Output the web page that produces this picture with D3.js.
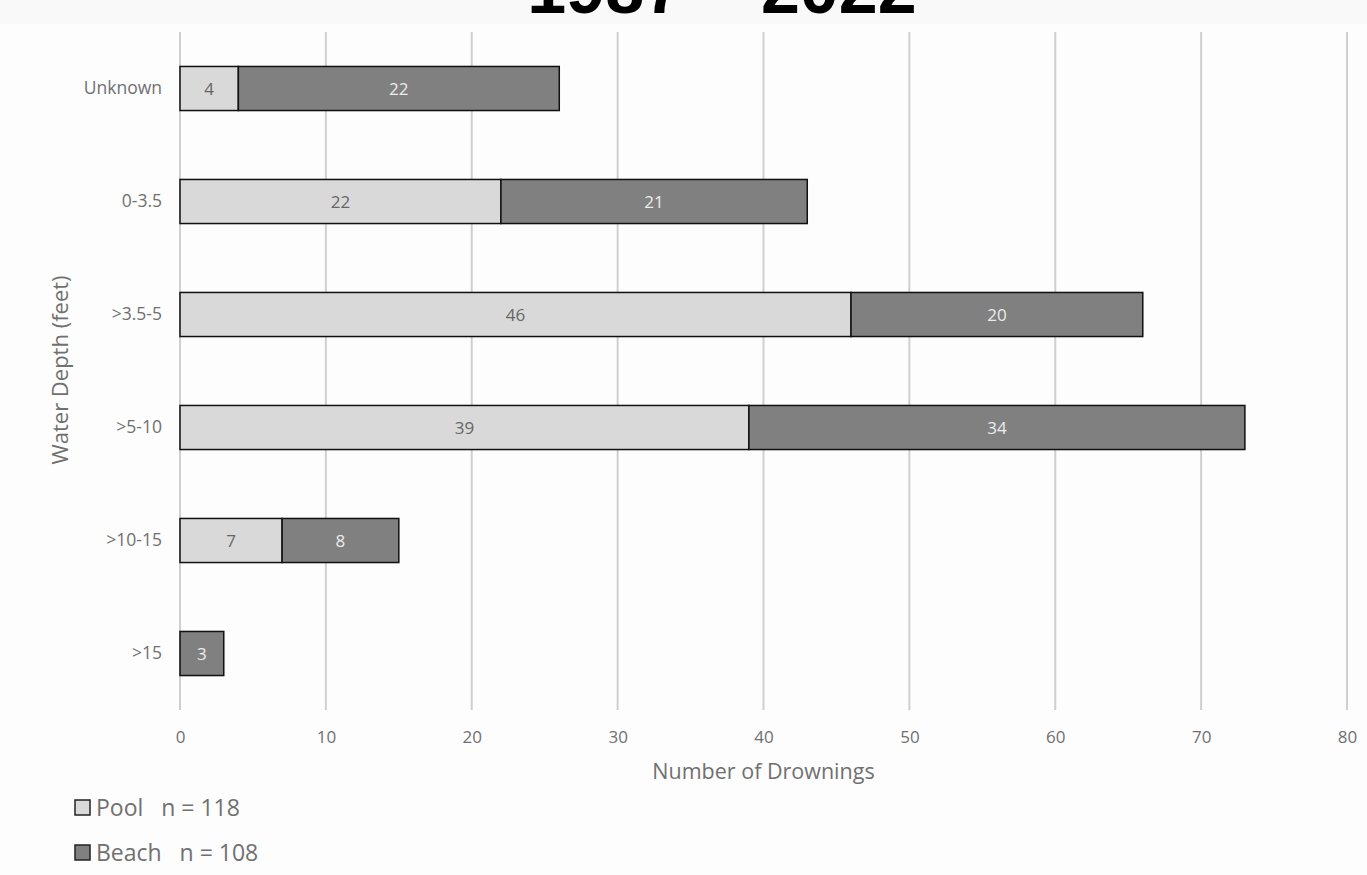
<!DOCTYPE html>
<html><head><meta charset="utf-8">
<script src="https://cdn.jsdelivr.net/npm/d3@7"></script>
<style>
html,body{margin:0;padding:0;background:#fdfdfd;}
svg{display:block;}
</style></head>
<body>
<svg id="chart" width="1367" height="875"></svg>
<script>
const categories = ["Unknown", "0-3.5", ">3.5-5", ">5-10", ">10-15", ">15"];
const poolValues = [4, 22, 46, 39, 7, 0];
const beachValues = [22, 21, 20, 34, 8, 3];
const xTicks = [0, 10, 20, 30, 40, 50, 60, 70, 80];
const seriesNames = ["Pool", "Beach"];
const seriesTotals = ["n = 118", "n = 108"];
const titleText = "1987 \u2013 2022";

const font = "'Open Sans', 'Noto Sans', sans-serif";
const svg = d3.select("#chart");
const W = 1367, H = 875;
const m = {left: 180, right: 20, top: 32, bottom: 165};

svg.append("rect").attr("width", W).attr("height", H).attr("fill", "#fdfdfd");
svg.append("rect").attr("x", 0).attr("y", 0).attr("width", W).attr("height", 24).attr("fill", "#f9f9f9");

const x = d3.scaleLinear().domain([0, 80]).range([m.left, W - m.right]);
const y = d3.scaleBand().domain(categories).range([m.top, H - m.bottom]).paddingInner(0.61).paddingOuter(0.305);

// title (cropped at top, as in the reference)
svg.append("text").attr("x", 722).attr("y", 13).attr("text-anchor", "middle")
  .attr("font-family", "'Liberation Sans', Arial, sans-serif").attr("font-weight", "bold")
  .attr("font-size", 70).attr("fill", "#000").text(titleText);

// gridlines
svg.append("g").selectAll("line").data(xTicks).join("line")
  .attr("x1", d => x(d)).attr("x2", d => x(d))
  .attr("y1", m.top).attr("y2", H - m.bottom)
  .attr("stroke", "#cfcfcf").attr("stroke-width", 2);

// x axis labels
const xAxis = d3.axisBottom(x).tickValues(xTicks).tickSize(0).tickPadding(21);
const gx = svg.append("g").attr("transform", `translate(0,${H - m.bottom})`).call(xAxis);
gx.select(".domain").remove();
gx.selectAll("text").attr("font-family", font).attr("font-size", 17).attr("fill", "#707070");

// y axis labels
const yAxis = d3.axisLeft(y).tickSize(0).tickPadding(18);
const gy = svg.append("g").attr("transform", `translate(${m.left},0)`).call(yAxis);
gy.select(".domain").remove();
gy.selectAll("text").attr("font-family", font).attr("font-size", 17.5).attr("fill", "#707070");

// bars
const rows = categories.map((c, i) => ({cat: c, pool: poolValues[i], beach: beachValues[i]}));
const bars = svg.append("g");
rows.forEach(r => {
  if (r.pool > 0) {
    bars.append("rect").attr("x", x(0)).attr("y", y(r.cat))
      .attr("width", x(r.pool) - x(0)).attr("height", y.bandwidth())
      .attr("fill", "#d9d9d9").attr("stroke", "#111").attr("stroke-width", 1.5);
    bars.append("text").attr("x", (x(0) + x(r.pool)) / 2).attr("y", y(r.cat) + y.bandwidth() / 2)
      .attr("dy", "0.36em").attr("text-anchor", "middle").attr("font-family", font)
      .attr("font-size", 17).attr("fill", "#666").text(r.pool);
  }
  if (r.beach > 0) {
    bars.append("rect").attr("x", x(r.pool)).attr("y", y(r.cat))
      .attr("width", x(r.pool + r.beach) - x(r.pool)).attr("height", y.bandwidth())
      .attr("fill", "#808080").attr("stroke", "#111").attr("stroke-width", 1.5);
    bars.append("text").attr("x", (x(r.pool) + x(r.pool + r.beach)) / 2).attr("y", y(r.cat) + y.bandwidth() / 2)
      .attr("dy", "0.36em").attr("text-anchor", "middle").attr("font-family", font)
      .attr("font-size", 17).attr("fill", "#ececec").text(r.beach);
  }
});

// axis titles
svg.append("text").attr("x", (x(0) + x(80)) / 2).attr("y", 779).attr("text-anchor", "middle")
  .attr("font-family", font).attr("font-size", 21.5).attr("fill", "#707070").text("Number of Drownings");
svg.append("text").attr("transform", "translate(68,370) rotate(-90)").attr("text-anchor", "middle")
  .attr("font-family", font).attr("font-size", 22).attr("fill", "#707070").text("Water Depth (feet)");

// legend
const legColors = ["#d9d9d9", "#808080"];
const leg = svg.append("g");
seriesNames.forEach((n, i) => {
  const ly = 808 + i * 45;
  leg.append("rect").attr("x", 75).attr("y", ly - 8).attr("width", 15).attr("height", 15)
    .attr("fill", legColors[i]).attr("stroke", "#222").attr("stroke-width", 1.5);
  leg.append("text").attr("x", 96).attr("y", ly).attr("dy", "0.36em")
    .attr("font-family", font).attr("font-size", 23).attr("fill", "#707070")
    .attr("xml:space", "preserve").text(n + "   " + seriesTotals[i]);
});
</script>
</body></html>
